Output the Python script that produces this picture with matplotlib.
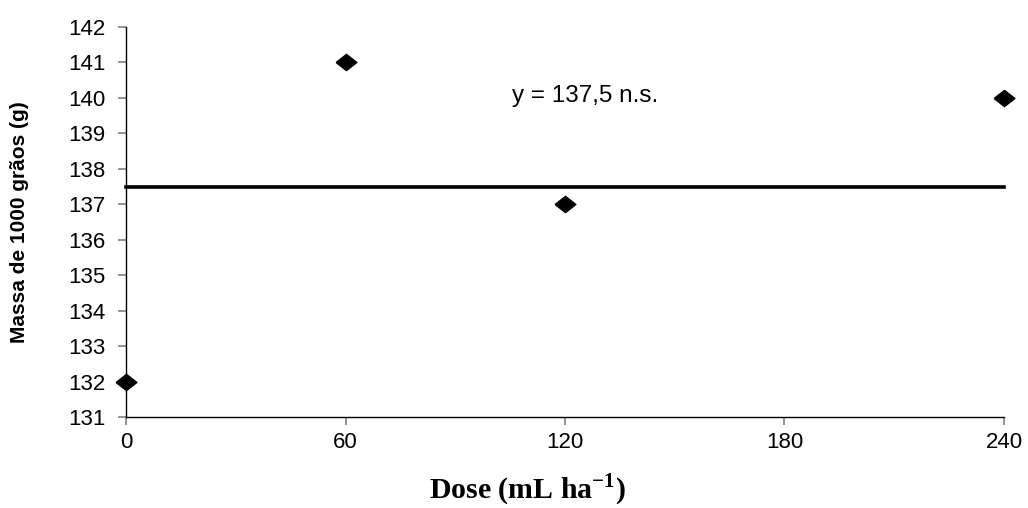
import matplotlib
matplotlib.use("Agg")
import matplotlib.pyplot as plt

# dose (mL/ha) and mass of 1000 grains (g)
doses = [0, 60, 120, 240]
massa = [132, 141, 137, 140]
media = 137.5
x_ticks = [0, 60, 120, 180, 240]
y_ticks = list(range(131, 143))

plt.rcParams["mathtext.fontset"] = "custom"
plt.rcParams["mathtext.rm"] = "Liberation Serif:bold"

fig = plt.figure(figsize=(10.28, 5.08), dpi=100)
ax = fig.add_axes([0.1226, 0.179, 0.854, 0.768])

diamond = [(-1, 0), (0, 0.78), (1, 0), (0, -0.78), (-1, 0)]
ax.plot(doses, massa, linestyle="none", marker=diamond, markersize=15,
        color="black", clip_on=False, zorder=3)
ax.plot([0, 240], [media, media], color="black", linewidth=2.6, clip_on=False)

ax.text(0.523, 0.824, "y = 137,5 n.s.", transform=ax.transAxes,
        fontsize=17.5, family="Liberation Sans", ha="center", va="center")

ax.set_xlim(0, 240)
ax.set_ylim(131, 142)
ax.set_xticks(x_ticks)
ax.set_yticks(y_ticks)
ax.tick_params(direction="out", length=6, width=1.2, color="#808080",
               labelsize=16)
ax.tick_params(axis="y", pad=9)
ax.tick_params(axis="x", pad=5)
for lbl in ax.get_xticklabels() + ax.get_yticklabels():
    lbl.set_family("Liberation Sans")

for s in ["top", "right"]:
    ax.spines[s].set_visible(False)
for s in ["left", "bottom"]:
    ax.spines[s].set_linewidth(1.0)

fig.text(0.513, 0.035, "Dose (mL ha$^{\\mathrm{-1}}$)", fontsize=21.5,
         fontweight="bold", family="Liberation Serif", ha="center", va="center")
ax.set_ylabel("Massa de 1000 grãos (g)", fontsize=15, fontweight="bold",
              family="Liberation Sans")
ax.yaxis.set_label_coords(-0.111, 0.5)

fig.savefig("out.png", dpi=100)
